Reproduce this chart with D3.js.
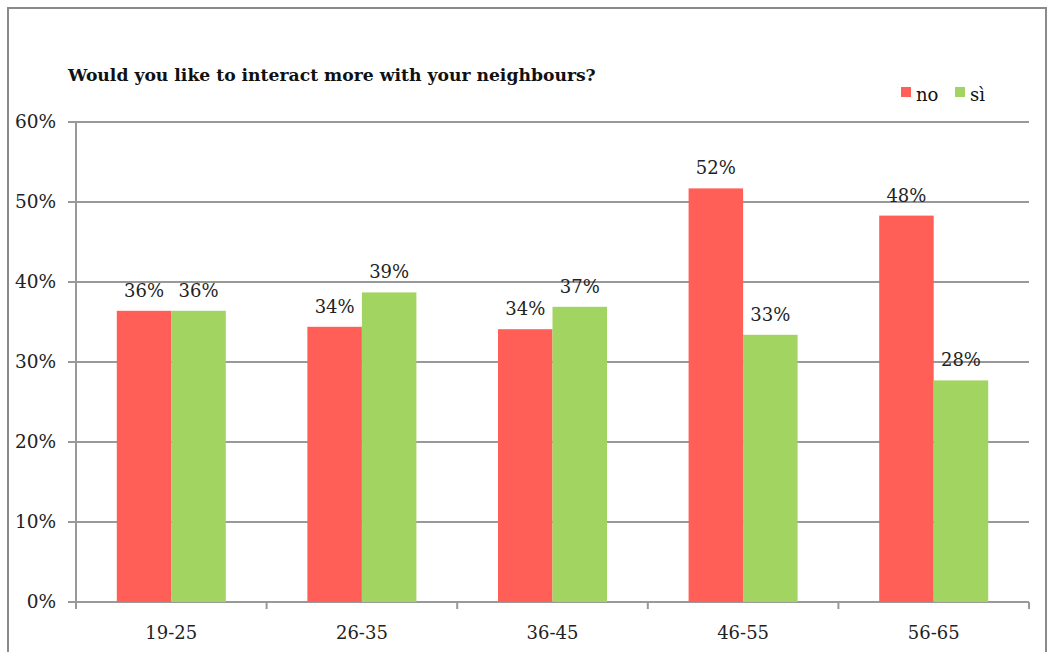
<!DOCTYPE html>
<html>
<head>
<meta charset="utf-8">
<script src="https://cdn.jsdelivr.net/npm/d3@7"></script>
<style>
  body { margin: 0; background: #fff; }
  svg { display: block; font-family: "DejaVu Serif", "Liberation Serif", serif; }
</style>
</head>
<body>
<div id="chart"></div>
<script>
const categories = ["19-25", "26-35", "36-45", "46-55", "56-65"];
const seriesNames = ["no", "sì"];
const noValues = [36.4, 34.4, 34.1, 51.7, 48.3];
const siValues = [36.4, 38.7, 36.9, 33.4, 27.7];
const valueLabels = [["36%", "34%", "34%", "52%", "48%"], ["36%", "39%", "37%", "33%", "28%"]];
const yTicks = [0, 10, 20, 30, 40, 50, 60];
const colors = ["#FF5F57", "#A2D462"];

const width = 1054, height = 652;
const margin = { top: 122, right: 25, bottom: 50, left: 76 };

const svg = d3.select("#chart").append("svg")
  .attr("width", width)
  .attr("height", height);

// outer frame
svg.append("path")
  .attr("fill", "none")
  .attr("stroke", "#8a8a8a")
  .attr("stroke-width", 2)
  .attr("d", `M8,${height} V8 H1046 V${height}`);

const x = d3.scaleBand()
  .domain(categories)
  .range([margin.left, width - margin.right])
  .paddingInner(0.428)
  .paddingOuter(0.214);

const x0 = d3.scaleBand()
  .domain(categories)
  .range([margin.left, width - margin.right]);

const xs = d3.scaleBand()
  .domain(seriesNames)
  .range([0, x.bandwidth()]);

const y = d3.scaleLinear()
  .domain([0, 60])
  .range([height - margin.bottom, margin.top]);

// gridlines
svg.append("g")
  .selectAll("line")
  .data(yTicks)
  .join("line")
  .attr("x1", margin.left - 8)
  .attr("x2", width - margin.right)
  .attr("y1", (d) => y(d))
  .attr("y2", (d) => y(d))
  .attr("stroke", "#999")
  .attr("stroke-width", 2);

// y axis line
svg.append("line")
  .attr("x1", margin.left).attr("x2", margin.left)
  .attr("y1", y(60)).attr("y2", y(0) + 7)
  .attr("stroke", "#999").attr("stroke-width", 2);

// x ticks between categories
svg.append("g")
  .selectAll("line")
  .data(categories)
  .join("line")
  .attr("x1", (d) => x0(d) + x0.bandwidth())
  .attr("x2", (d) => x0(d) + x0.bandwidth())
  .attr("y1", y(0))
  .attr("y2", y(0) + 7)
  .attr("stroke", "#999")
  .attr("stroke-width", 2);

// y tick labels
svg.append("g")
  .selectAll("text")
  .data(yTicks)
  .join("text")
  .attr("x", margin.left - 20)
  .attr("y", (d) => y(d))
  .attr("dy", "0.35em")
  .attr("text-anchor", "end")
  .attr("font-size", 18.5)
  .attr("fill", "#222")
  .text((d) => d + "%");

// x labels
svg.append("g")
  .selectAll("text")
  .data(categories)
  .join("text")
  .attr("x", (d) => x(d) + x.bandwidth() / 2)
  .attr("y", y(0) + 37)
  .attr("text-anchor", "middle")
  .attr("font-size", 18)
  .attr("fill", "#222")
  .text((d) => d);

const series = [noValues, siValues];
series.forEach((vals, si) => {
  const g = svg.append("g");
  g.selectAll("rect")
    .data(vals)
    .join("rect")
    .attr("x", (d, i) => x(categories[i]) + xs(seriesNames[si]))
    .attr("y", (d) => y(d))
    .attr("width", xs.bandwidth())
    .attr("height", (d) => y(0) - y(d))
    .attr("fill", colors[si]);
  g.selectAll("text")
    .data(vals)
    .join("text")
    .attr("x", (d, i) => x(categories[i]) + xs(seriesNames[si]) + xs.bandwidth() / 2)
    .attr("y", (d) => y(d) - 14)
    .attr("text-anchor", "middle")
    .attr("font-size", 18)
    .attr("fill", "#222")
    .text((d, i) => valueLabels[si][i]);
});

// title
svg.append("text")
  .attr("x", 68)
  .attr("y", 81)
  .attr("font-size", 17.2)
  .attr("font-weight", "bold")
  .attr("fill", "#111")
  .text("Would you like to interact more with your neighbours?");

// legend
const legend = svg.append("g");
const legendX = [901, 955];
seriesNames.forEach((name, i) => {
  legend.append("rect")
    .attr("x", legendX[i]).attr("y", 87)
    .attr("width", 10).attr("height", 10)
    .attr("fill", colors[i]);
  legend.append("text")
    .attr("x", legendX[i] + 15).attr("y", 101)
    .attr("font-size", 18)
    .attr("fill", "#111")
    .text(name);
});
</script>
</body>
</html>
